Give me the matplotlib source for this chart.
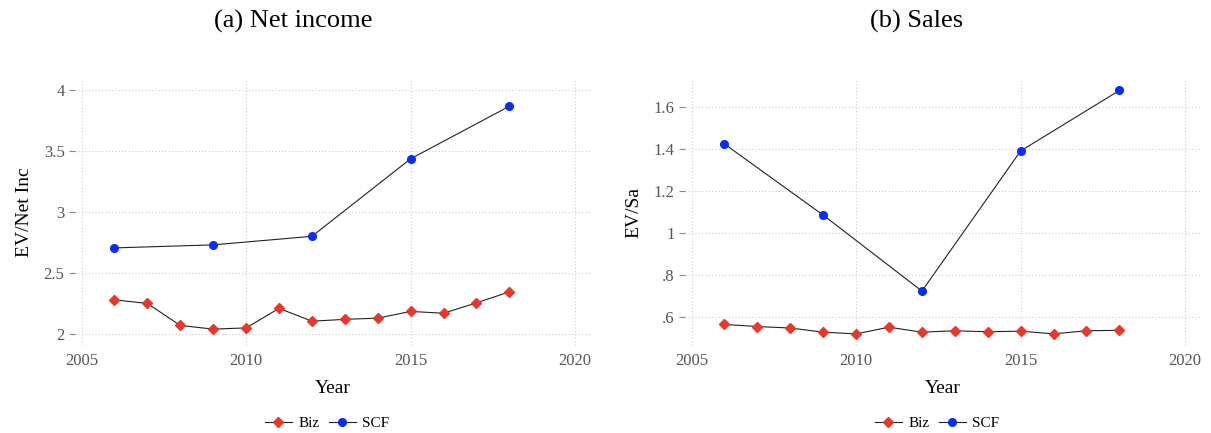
import matplotlib.pyplot as plt
import numpy as np

plt.rcParams['font.family'] = ['Liberation Serif', 'DejaVu Serif']

biz_years = [2006, 2007, 2008, 2009, 2010, 2011, 2012, 2013, 2014, 2015, 2016, 2017, 2018]
scf_years = [2006, 2009, 2012, 2015, 2018]

biz_netinc = [2.28, 2.25, 2.07, 2.04, 2.05, 2.21, 2.105, 2.12, 2.13, 2.185, 2.17, 2.255, 2.345]
scf_netinc = [2.705, 2.73, 2.80, 3.435, 3.865]

biz_sales = [0.565, 0.555, 0.548, 0.528, 0.52, 0.552, 0.528, 0.535, 0.530, 0.533, 0.52, 0.535, 0.537]
scf_sales = [1.425, 1.086, 0.724, 1.392, 1.68]

red = '#e8372b'
blue = '#0a2df5'

fig = plt.figure(figsize=(12.11, 4.33), dpi=100)

panels = [
    dict(left=75, title='(a) Net income', title_x=293, ylabel='EV/Net Inc',
         biz=biz_netinc, scf=scf_netinc, ylim=(1.91, 4.08),
         yticks=[2, 2.5, 3, 3.5, 4], ylabels=['2', '2.5', '3', '3.5', '4'], leg_x=327),
    dict(left=685, title='(b) Sales', title_x=917, ylabel='EV/Sa',
         biz=biz_sales, scf=scf_sales, ylim=(0.467, 1.73),
         yticks=[0.6, 0.8, 1.0, 1.2, 1.4, 1.6], ylabels=['.6', '.8', '1', '1.2', '1.4', '1.6'], leg_x=937),
]

for p in panels:
    ax = fig.add_axes([p['left'] / 1211, 88 / 433, 515 / 1211, 265 / 433])
    ax.plot(biz_years, p['biz'], color='#222222', lw=0.8, marker='D', ms=5.5,
            mfc=red, mec=red, label='Biz', zorder=3)
    ax.plot(scf_years, p['scf'], color='#222222', lw=0.8, marker='o', ms=5.5,
            mfc=blue, mec=blue, label='SCF', zorder=3)
    ax.set_xlim(2004.8, 2020.45)
    ax.set_ylim(*p['ylim'])
    ax.set_xticks([2005, 2010, 2015, 2020])
    ax.set_yticks(p['yticks'])
    ax.set_yticklabels(p['ylabels'])
    ax.grid(True, linestyle=(0, (1, 2)), color='#cccccc', lw=0.8)
    for s in ax.spines.values():
        s.set_visible(False)
    ax.tick_params(axis='y', length=4, color='#888888', labelcolor='#555555', labelsize=12)
    ax.tick_params(axis='x', length=0, labelcolor='#555555', labelsize=12, pad=6)
    ax.set_xlabel('Year', fontsize=14, labelpad=8)
    ax.set_ylabel(p['ylabel'], fontsize=14, labelpad=8)
    fig.text(p['title_x'] / 1211, 1 - 21 / 433, p['title'], fontsize=19,
             ha='center', va='center')
    fig.legend(handles=ax.get_lines(), loc='center', ncol=2, frameon=False,
               bbox_to_anchor=(p['leg_x'] / 1211, 10 / 433), fontsize=11,
               handlelength=1.8, columnspacing=0.6, handletextpad=0.4)

fig.savefig('out.png', dpi=100)
